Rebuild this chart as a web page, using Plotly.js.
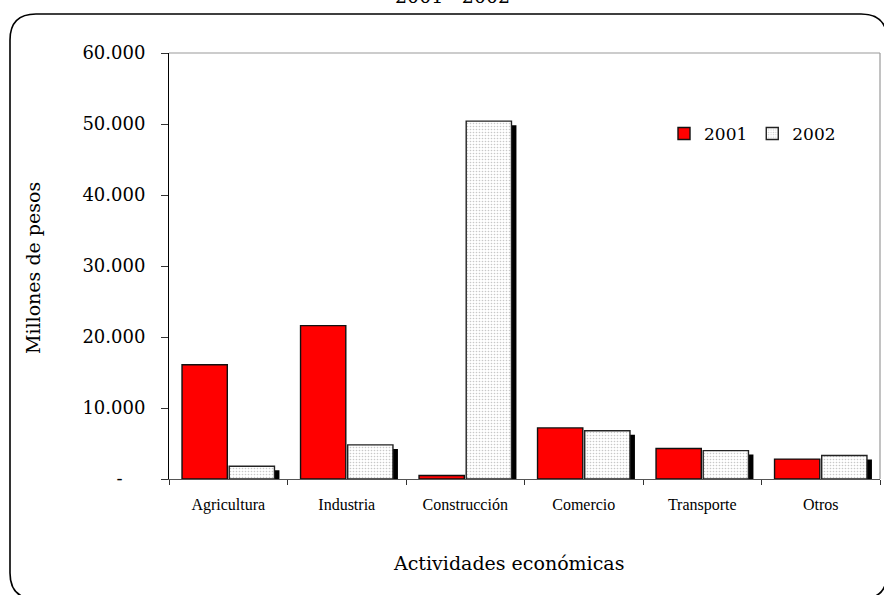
<!DOCTYPE html>
<html>
<head>
<meta charset="utf-8">
<script src="https://cdn.plot.ly/plotly-3.0.1.min.js"></script>
<style>html,body{margin:0;padding:0;background:#fff;}#chart{width:884px;height:595px;}</style>
</head>
<body>
<div id="chart"></div>
<script>
// ---- data ----
const categories = ["Agricultura", "Industria", "Construcción", "Comercio", "Transporte", "Otros"];
const values2001 = [16100, 21600, 500, 7200, 4300, 2800];
const values2002 = [1800, 4800, 50400, 6800, 4000, 3300];
const seriesNames = ["2001", "2002"];
const yTickVals = [0, 10000, 20000, 30000, 40000, 50000, 60000];
const yTickText = ["-\u00a0\u00a0\u00a0\u00a0", "10.000", "20.000", "30.000", "40.000", "50.000", "60.000"];
const chartTitle = "2001 - 2002";
const xTitle = "Actividades económicas";
const yTitle = "Millones de pesos";

// ---- geometry (pixels) ----
const W = 884, H = 595;
const L = 169, R = 880, T = 53, B = 479;
const pw = R - L, ph = B - T;
const px = x => (x - L) / pw;
const py = y => (B - y) / ph;
const yMax = 60000;
const shadowDrop = 4 * yMax / ph; // 4 px drop in data units

const serif = "DejaVu Serif, serif";
const times = "Liberation Serif, Times New Roman, serif";

const shadow = {
  type: "bar", x: categories, y: values2002.map(v => v - shadowDrop),
  offset: 0.05, width: 0.382,
  marker: {color: "#000", line: {width: 0}},
  showlegend: false, hoverinfo: "skip"
};
const bar2001 = {
  type: "bar", name: seriesNames[0], x: categories, y: values2001,
  offset: -0.39, width: 0.382,
  marker: {color: "#ff0000", line: {color: "#111", width: 1.4}}
};
const bar2002 = {
  type: "bar", name: seriesNames[1], x: categories, y: values2002,
  offset: 0.008, width: 0.382,
  marker: {color: "#ffffff", line: {color: "#222", width: 1.4},
    pattern: {shape: ".", fgcolor: "#c8c8c8", bgcolor: "#ffffff", size: 3, solidity: 0.22}}
};

// rounded border path in paper coordinates
function roundedRect(x0, y0, x1, y1, r) {
  const X = v => px(v).toFixed(5), Y = v => py(v).toFixed(5);
  return "M" + X(x0 + r) + "," + Y(y0) +
    " L" + X(x1 - r) + "," + Y(y0) +
    " Q" + X(x1) + "," + Y(y0) + " " + X(x1) + "," + Y(y0 + r) +
    " L" + X(x1) + "," + Y(y1 - r) +
    " Q" + X(x1) + "," + Y(y1) + " " + X(x1 - r) + "," + Y(y1) +
    " L" + X(x0 + r) + "," + Y(y1) +
    " Q" + X(x0) + "," + Y(y1) + " " + X(x0) + "," + Y(y1 - r) +
    " L" + X(x0) + "," + Y(y0 + r) +
    " Q" + X(x0) + "," + Y(y0) + " " + X(x0 + r) + "," + Y(y0) + " Z";
}

const layout = {
  width: W, height: H,
  margin: {l: L, r: W - R, t: T, b: H - B, pad: 0},
  paper_bgcolor: "#fff", plot_bgcolor: "#fff",
  barmode: "overlay",
  showlegend: true,
  legend: {
    orientation: "h", x: px(664), y: py(116), xanchor: "left", yanchor: "top",
    font: {family: serif, size: 17, color: "#000"},
    bgcolor: "rgba(0,0,0,0)", itemwidth: 30, traceorder: "normal"
  },
  xaxis: {
    type: "category", range: [-0.5, 5.5],
    showline: true, linecolor: "#555", linewidth: 1,
    ticks: "outside", tickson: "boundaries", ticklen: 5, tickcolor: "#333",
    showgrid: false, zeroline: false,
    tickfont: {family: times, size: 16, color: "#000"},
    ticklabelstandoff: 11, fixedrange: true
  },
  yaxis: {
    range: [0, yMax],
    tickvals: yTickVals, ticktext: yTickText,
    showline: true, linecolor: "#000", linewidth: 1,
    ticks: "outside", ticklen: 7, tickcolor: "#333",
    showgrid: false, zeroline: false,
    tickfont: {family: serif, size: 18, color: "#000"},
    ticklabelstandoff: 12, fixedrange: true
  },
  shapes: [
    {type: "line", xref: "paper", yref: "paper", x0: 0, x1: 1, y0: 1, y1: 1, line: {color: "#999", width: 1.2}},
    {type: "line", xref: "paper", yref: "paper", x0: 1, x1: 1, y0: 0, y1: 1, line: {color: "#999", width: 1.2}},
    {type: "path", xref: "paper", yref: "paper", path: roundedRect(10, 14, 887, 599, 26), line: {color: "#000", width: 1.6}, layer: "above"}
  ],
  annotations: [
    {xref: "paper", yref: "paper", x: px(452), y: py(-4), text: chartTitle, showarrow: false,
     xanchor: "center", yanchor: "middle", font: {family: serif, size: 19, color: "#000"}},
    {xref: "paper", yref: "paper", x: px(508), y: py(563), text: xTitle, showarrow: false,
     xanchor: "center", yanchor: "middle", font: {family: serif, size: 19, color: "#000"}},
    {xref: "paper", yref: "paper", x: px(33), y: py(268), text: yTitle, showarrow: false, textangle: -90,
     xanchor: "center", yanchor: "middle", font: {family: serif, size: 19, color: "#000"}}
  ]
};

Plotly.newPlot("chart", [shadow, bar2001, bar2002], layout, {staticPlot: true, displayModeBar: false});
</script>
</body>
</html>
